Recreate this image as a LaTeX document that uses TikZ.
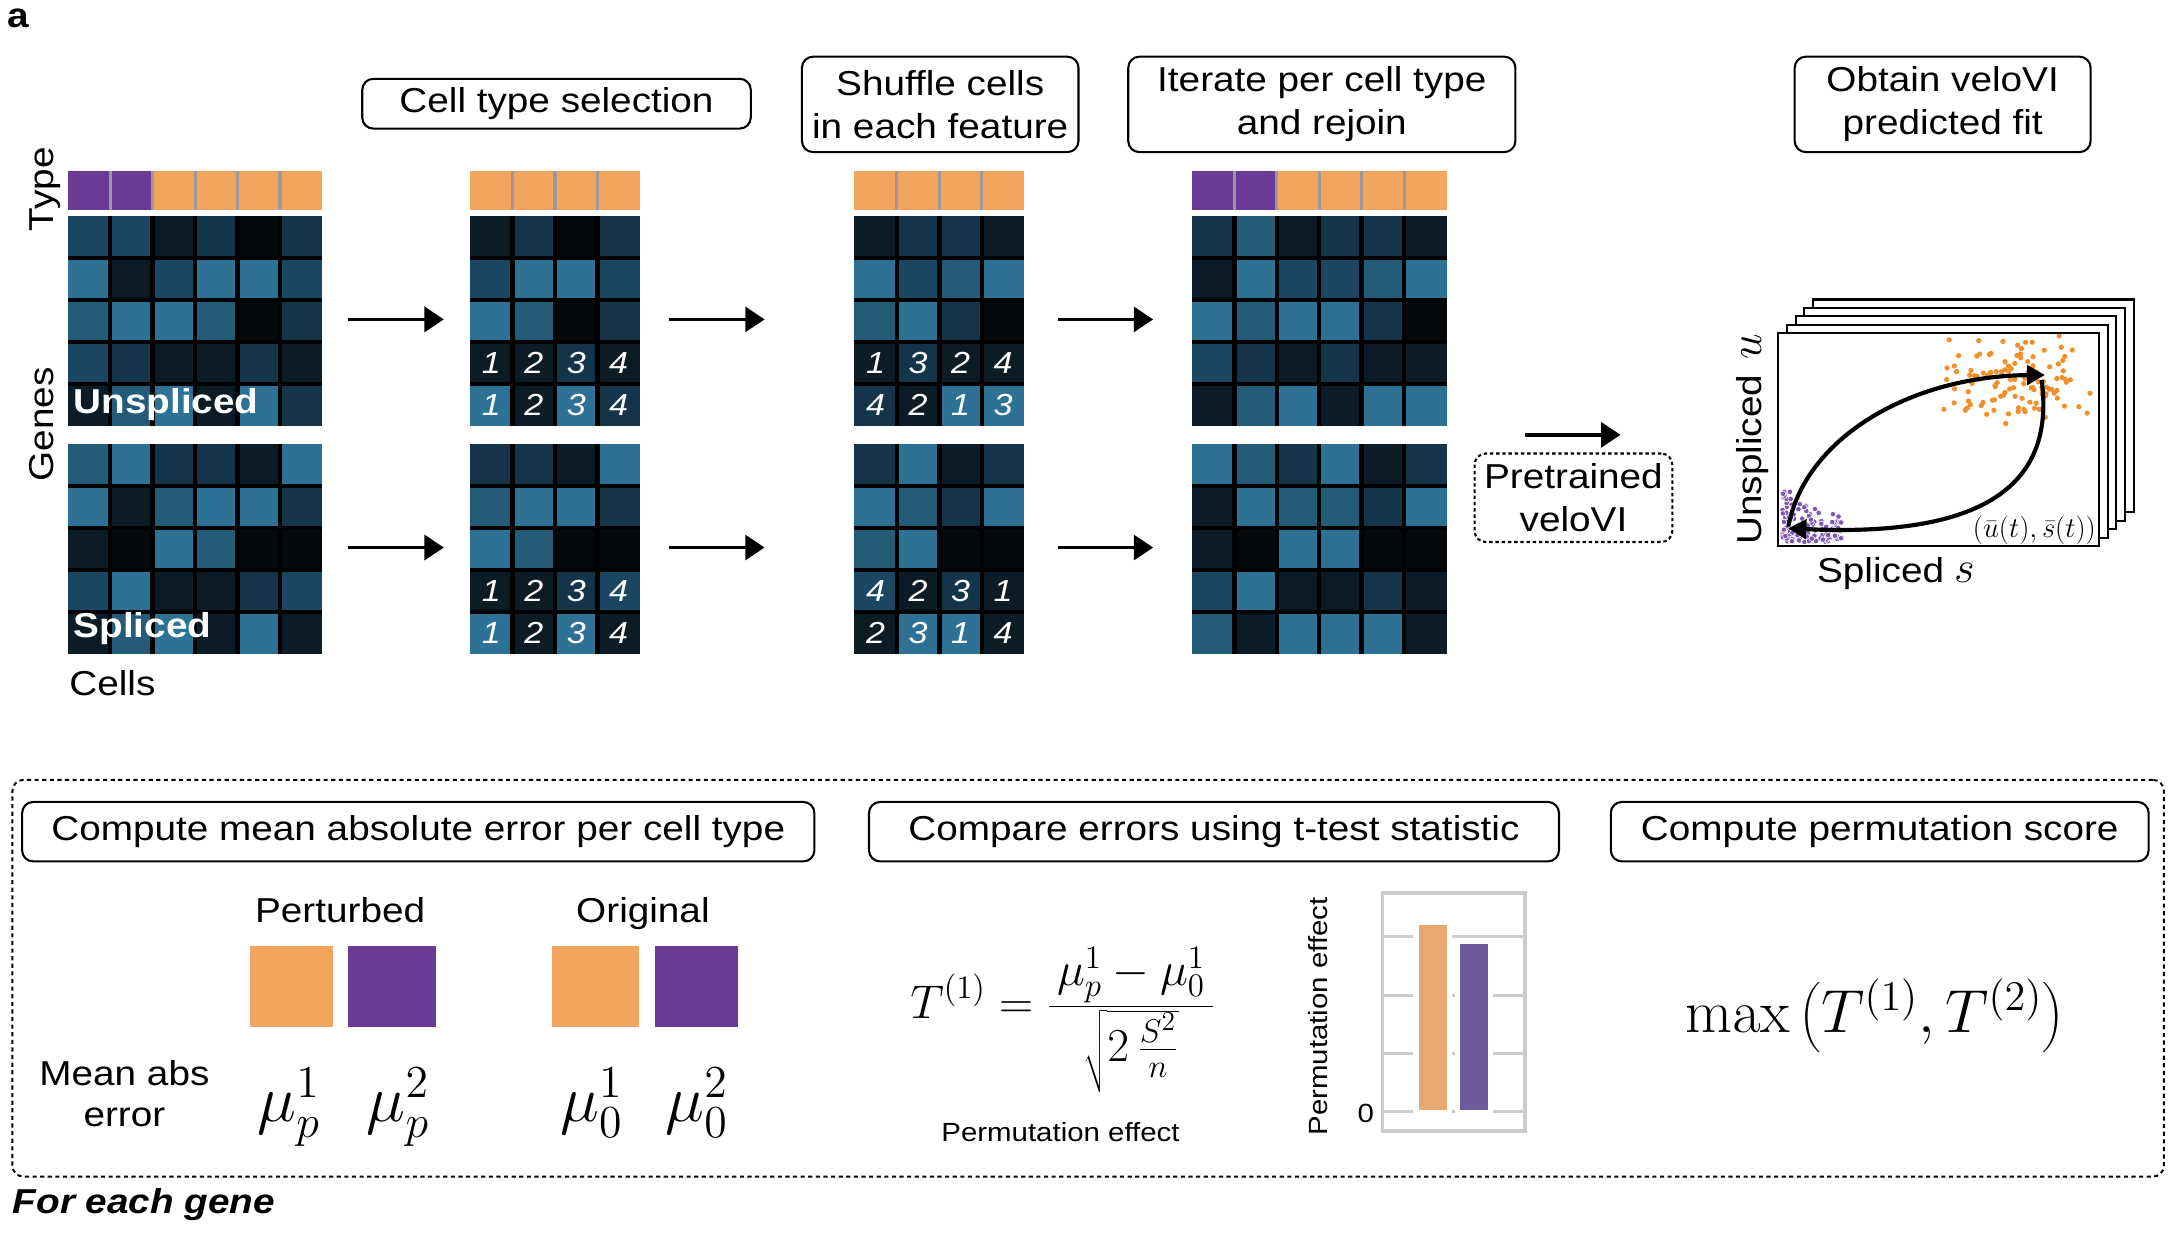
\RequirePackage{fix-cm}
\documentclass[tikz,border=0pt]{standalone}
\usepackage[no-math]{fontspec}
\setmainfont{Liberation Sans}[FakeStretch=1.12]
\usetikzlibrary{arrows.meta}

\definecolor{h0}{HTML}{05090C}
\definecolor{h1}{HTML}{0B1C27}
\definecolor{h2}{HTML}{14344A}
\definecolor{h3}{HTML}{1B4762}
\definecolor{h4}{HTML}{235B79}
\definecolor{h5}{HTML}{2D7195}
\definecolor{tpur}{HTML}{6B3A97}
\definecolor{tora}{HTML}{F3A55F}
\definecolor{sepgray}{HTML}{9A9A9A}
\definecolor{gridg}{HTML}{CCCCCC}
\definecolor{barora}{HTML}{E9A771}
\definecolor{barpur}{HTML}{6C5A9C}
\definecolor{dotor}{HTML}{F0902A}
\definecolor{dotpu}{HTML}{7E55B5}

\newcommand\hmcw{30.7}
\newcommand\hmrh{30.4}

\newcommand\hmblock[4]{% x0, y0, ncols-1, rows
  \foreach \rowlist [count=\r from 0] in {#4} {
    \foreach \cc [count=\k from 0] in \rowlist {
      \fill[fill=\cc] ({#1+\k*\hmcw},{#2+\r*\hmrh}) rectangle ++(\hmcw,\hmrh);
    }
  }
  \foreach \k in {1,...,#3} {\draw[black,line width=3.2pt] ({#1+\k*\hmcw},#2) -- ++(0,{5*\hmrh});}
  \foreach \r in {1,...,4} {\draw[black,line width=3.2pt] (#1,{#2+\r*\hmrh}) -- ++({(#3+1)*\hmcw},0);}
}
\newcommand\typebar[3]{% x0, npurple, ncols-1
  \fill[tora] (#1,124) rectangle ({#1+(#3+1)*\hmcw},152);
  \ifnum#2>0 \fill[tpur] (#1,124) rectangle ({#1+#2*\hmcw},152);\fi
  \foreach \k in {1,...,#3} {\draw[sepgray,line width=2.2pt] ({#1+\k*\hmcw},124) -- ++(0,28);}
}

\tikzset{
  txt/.style={inner sep=0pt, font=\fontsize{25}{31}\selectfont},
  tbox/.style={draw, line width=1.5pt, rounded corners=8pt, align=center, inner sep=0pt, font=\fontsize{25}{31}\selectfont},
  hmarrow/.style={line width=2.6pt, -{Triangle[length=14pt,width=18pt]}},
  dig/.style={text=white, inner sep=0pt, font=\fontsize{22}{26}\selectfont\itshape},
  hmlabel/.style={text=white, inner sep=0pt, anchor=base west, font=\fontsize{25}{30}\selectfont\bfseries},
  curvearrow/.style={line width=3pt, -{Triangle[length=13pt,width=14pt]}},
  sq/.style={inner sep=0pt, minimum width=60pt, minimum height=59pt},
  mth/.style={inner sep=0pt, font=\fontsize{20.74}{24}\selectfont},
  bigmath/.style={mth, anchor=base, scale=2.3},
  purdot/.style={fill=dotpu, draw=white, line width=0.45pt},
}

\begin{document}
\begin{tikzpicture}[x=1pt,y=-1pt]
\useasboundingbox (0,0) rectangle (1568,892);
\fill[white] (0,0) rectangle (1568,892);

% panel letter
\node[txt, anchor=base west, font=\fontsize{25}{30}\selectfont\bfseries] (lab) at (5,20) {a};

% top step boxes
\node[tbox, minimum width=281pt, minimum height=36pt] (b1) at (402.5,75) {Cell type selection};
\node[tbox, minimum width=200pt, minimum height=69pt] (b2) at (680,75.5) {Shuffle cells\\in each feature};
\node[tbox, minimum width=280pt, minimum height=69pt] (b3) at (956,75.5) {Iterate per cell type\\and rejoin};
\node[tbox, minimum width=214pt, minimum height=69pt] (b4) at (1405,75.5) {Obtain veloVI\\predicted fit};

% heatmap 1
\typebar{49}{2}{5}
\hmblock{49}{156}{5}{{h3,h3,h1,h2,h0,h2},{h5,h1,h3,h5,h5,h3},{h4,h5,h5,h4,h0,h2},{h3,h2,h1,h1,h2,h1},{h1,h4,h5,h1,h5,h2}}
\hmblock{49}{321}{5}{{h4,h5,h2,h2,h1,h5},{h5,h1,h4,h5,h5,h2},{h1,h0,h5,h4,h0,h0},{h3,h5,h1,h1,h2,h3},{h1,h4,h5,h1,h5,h1}}
\node[hmlabel] (uns1) at (53,299) {Unspliced};
\node[hmlabel] (spl1) at (53,461) {Spliced};
\node[txt, rotate=90, anchor=base] (typelab) at (38.5,137) {Type};
\node[txt, rotate=90, anchor=base] (geneslab) at (38.5,307) {Genes};
\node[txt, anchor=base west] (cellslab) at (50,503) {Cells};

% heatmap 2
\typebar{340}{0}{3}
\hmblock{340}{156}{3}{{h1,h2,h0,h2},{h3,h5,h5,h3},{h5,h4,h0,h2},{h1,h1,h2,h1},{h5,h1,h5,h2}}
\hmblock{340}{321}{3}{{h2,h2,h1,h5},{h4,h5,h5,h2},{h5,h4,h0,h0},{h1,h1,h2,h3},{h5,h1,h5,h1}}
\foreach \d [count=\k from 0] in {1,2,3,4} {
  \node[dig] (dA\k) at ({340+(\k+0.5)*\hmcw},262.4) {\d};
  \node[dig] (dB\k) at ({340+(\k+0.5)*\hmcw},292.8) {\d};
  \node[dig] (dC\k) at ({340+(\k+0.5)*\hmcw},427.4) {\d};
  \node[dig] (dD\k) at ({340+(\k+0.5)*\hmcw},457.8) {\d};
}

% heatmap 3
\typebar{618}{0}{3}
\hmblock{618}{156}{3}{{h1,h2,h2,h1},{h5,h3,h4,h5},{h4,h5,h2,h0},{h1,h2,h1,h1},{h2,h1,h5,h5}}
\hmblock{618}{321}{3}{{h2,h5,h1,h2},{h5,h4,h2,h5},{h4,h5,h0,h0},{h3,h1,h2,h1},{h1,h5,h5,h1}}
\foreach \d [count=\k from 0] in {1,3,2,4} {\node[dig] (dE\k) at ({618+(\k+0.5)*\hmcw},262.4) {\d};}
\foreach \d [count=\k from 0] in {4,2,1,3} {\node[dig] (dF\k) at ({618+(\k+0.5)*\hmcw},292.8) {\d};}
\foreach \d [count=\k from 0] in {4,2,3,1} {\node[dig] (dG\k) at ({618+(\k+0.5)*\hmcw},427.4) {\d};}
\foreach \d [count=\k from 0] in {2,3,1,4} {\node[dig] (dH\k) at ({618+(\k+0.5)*\hmcw},457.8) {\d};}

% heatmap 4
\typebar{862}{2}{5}
\hmblock{862}{156}{5}{{h2,h4,h1,h2,h2,h1},{h1,h5,h3,h3,h4,h5},{h5,h4,h5,h5,h2,h0},{h3,h2,h1,h2,h1,h1},{h1,h4,h5,h1,h5,h5}}
\hmblock{862}{321}{5}{{h5,h4,h2,h5,h1,h2},{h1,h5,h4,h4,h2,h5},{h1,h0,h5,h5,h0,h0},{h3,h5,h1,h1,h2,h1},{h4,h1,h5,h5,h5,h1}}

% arrows between heatmaps
\coordinate (a1s) at (252,231); \coordinate (a1e) at (321,231);
\coordinate (a2s) at (484,231); \coordinate (a2e) at (553,231);
\coordinate (a3s) at (765,231); \coordinate (a3e) at (834,231);
\coordinate (a4s) at (252,396); \coordinate (a4e) at (321,396);
\coordinate (a5s) at (484,396); \coordinate (a5e) at (553,396);
\coordinate (a6s) at (765,396); \coordinate (a6e) at (834,396);
\draw[hmarrow] (a1s) -- (a1e);
\draw[hmarrow] (a2s) -- (a2e);
\draw[hmarrow] (a3s) -- (a3e);
\draw[hmarrow] (a4s) -- (a4e);
\draw[hmarrow] (a5s) -- (a5e);
\draw[hmarrow] (a6s) -- (a6e);

% pretrained veloVI
\node[txt, draw, line width=1.5pt, rounded corners=8pt, dash pattern=on 2.5pt off 2pt, minimum width=143pt, minimum height=64pt, align=center] (pre) at (1138,360) {Pretrained\\veloVI};
\coordinate (a7s) at (1103,314.5); \coordinate (a7e) at (1172,314.5);
\draw[hmarrow] (a7s) -- (a7e);

% stacked plots
\foreach \k in {4,3,2,1} {
  \filldraw[fill=white, draw=black, line width=1.5pt] ({1286+6.3*\k},{241-6.1*\k}) rectangle ({1518+6.3*\k},{395-6.1*\k});
}
\node[draw, fill=white, line width=1.5pt, minimum width=232pt, minimum height=154pt, inner sep=0pt] (plot) at (1402,318) {};
\begin{scope}
  \clip (1287,242) rectangle (1517,394);
  \pgfmathsetseed{11}
  \foreach \i in {1,...,120} {
    \pgfmathsetmacro\px{1457+30*(rand+rand)}
    \pgfmathsetmacro\py{274+19*(rand+rand)}
    \fill[dotor] (\px,\py) circle (1.9pt);
  }
  \foreach \i in {1,...,35} {
    \pgfmathsetmacro\px{1289+9*rnd}
    \pgfmathsetmacro\py{355+37*rnd}
    \filldraw[purdot] (\px,\py) circle (2pt);
  }
  \foreach \i in {1,...,50} {
    \pgfmathsetmacro\px{1289+43*rnd}
    \pgfmathsetmacro\py{381+11*rnd}
    \filldraw[purdot] (\px,\py) circle (2pt);
  }
  \foreach \i in {1,...,55} {
    \pgfmathsetmacro\px{1289+43*rnd}
    \pgfmathsetmacro\py{392-(36-0.4*(\px-1289))*rnd}
    \filldraw[purdot] (\px,\py) circle (2pt);
  }
\end{scope}
\coordinate (pLL) at (1293.4,380.9);
\coordinate (pUR) at (1479,271.2);
\coordinate (pURb) at (1476.6,274.8);
\coordinate (pLLb) at (1293.4,382.1);
\draw[curvearrow] (pLL) .. controls (1305,318) and (1380,272) .. (pUR);
\draw[curvearrow] (pURb) .. controls (1488,360) and (1420,388) .. (pLLb);
\node[mth, scale=1.0, anchor=south east] (ust) at (1516,394) {$(\bar u(t),\bar s(t))$};
\node[txt, rotate=90, anchor=base west] (ylab) at (1274,394.2) {Unspliced};
\node[mth, rotate=90, anchor=base west, scale=1.6] (yu) at (1274,260) {$u$};
\node[txt, anchor=base west] (xlab) at (1314,421) {Spliced};
\node[mth, anchor=base west, scale=1.55] (xs) at (1413,421) {$s$};

% bottom panel
\node[draw, line width=1.4pt, rounded corners=8pt, dash pattern=on 3pt off 2.5pt, minimum width=1556pt, minimum height=287pt, inner sep=0pt] (panel) at (787,707.5) {};
\node[txt, anchor=base west, font=\fontsize{25}{30}\selectfont\bfseries\itshape] (foreach) at (9,877.5) {For each gene};

\node[tbox, minimum width=573pt, minimum height=43pt] (s1) at (302.5,601.5) {Compute mean absolute error per cell type};
\node[tbox, minimum width=499pt, minimum height=43pt] (s2) at (878,601.5) {Compare errors using t-test statistic};
\node[tbox, minimum width=389pt, minimum height=43pt] (s3) at (1359.5,601.5) {Compute permutation score};

% section 1
\node[txt, anchor=base] (pertlab) at (246,667) {Perturbed};
\node[txt, anchor=base] (origlab) at (465,667) {Original};
\node[sq, fill=tora] (sqp1) at (210.5,713.5) {};
\node[sq, fill=tpur, minimum width=63pt] (sqp2) at (283.5,713.5) {};
\node[sq, fill=tora, minimum width=63pt] (sqo1) at (430.5,713.5) {};
\node[sq, fill=tpur] (sqo2) at (504,713.5) {};
\node[txt, anchor=base] (mae1) at (90,785) {Mean abs};
\node[txt, anchor=base] (mae2) at (90,815) {error};
\node[bigmath] (mup1) at (209,811) {$\mu_p^1$};
\node[bigmath] (mup2) at (288,811) {$\mu_p^2$};
\node[bigmath] (muo1) at (428,811) {$\mu_0^1$};
\node[bigmath] (muo2) at (504,811) {$\mu_0^2$};

% section 2
\node[mth, anchor=base west, scale=1.65] (tform) at (658,736.5) {$\displaystyle T^{(1)}=\frac{\,\mu_p^1-\mu_0^1\,}{\sqrt{\rule[-0.66em]{0pt}{1.52em}\textstyle 2\,\frac{S^2}{n}}}$};
\node[txt, anchor=base, font=\fontsize{19}{22}\selectfont] (permlab) at (767,825.7) {Permutation effect};

% bar chart
\draw[gridg, line width=2.6pt] (1000,646) rectangle (1103,818);
\foreach \yy in {677.5,720,762,804} {\draw[gridg, line width=2.4pt] (1000,\yy) -- (1103,\yy);}
\fill[white] (1022,665) rectangle (1050.5,807);
\fill[white] (1052,679) rectangle (1080,807);
\node[fill=barora, inner sep=0pt, minimum width=20.4pt, minimum height=134pt] (bar1) at (1036.2,736) {};
\node[fill=barpur, inner sep=0pt, minimum width=20pt, minimum height=120pt] (bar2) at (1066,743) {};
\node[txt, anchor=east, font=\fontsize{19}{22}\selectfont] (zero) at (994,805.5) {0};
\node[txt, rotate=90, anchor=base, font=\fontsize{19}{22}\selectfont] (yperm) at (960,735) {Permutation effect};

% section 3
\node[mth, anchor=base, scale=2.12] (maxf) at (1356,747) {$\max\left(T^{(1)},T^{(2)}\right)$};
\end{tikzpicture}
\end{document}
